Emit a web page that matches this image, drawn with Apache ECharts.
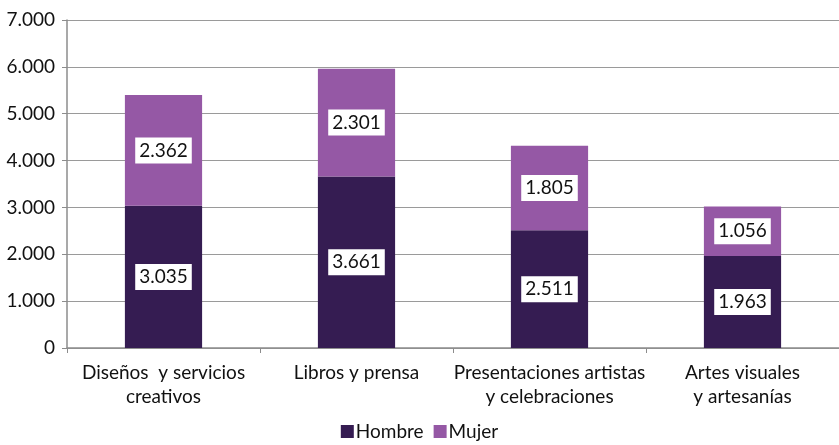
<!DOCTYPE html>
<html>
<head>
<meta charset="utf-8">
<script src="https://cdn.jsdelivr.net/npm/echarts@6/dist/echarts.min.js"></script>
<style>
  html, body { margin: 0; padding: 0; background: #fff; }
  #chart { width: 839px; height: 445px; }
</style>
</head>
<body>
<div id="chart"></div>
<script>
  const categories = ['Diseños  y servicios\ncreativos', 'Libros y prensa', 'Presentaciones artistas\ny celebraciones', 'Artes visuales\ny artesanías'];
  const hombre = [3035, 3661, 2511, 1963];
  const mujer = [2362, 2301, 1805, 1056];
  const yTicks = [0, 1000, 2000, 3000, 4000, 5000, 6000, 7000];

  // miles con punto: 3035 -> 3.035
  function fmt(v) {
    return String(v).replace(/\B(?=(\d{3})+(?!\d))/g, '.');
  }

  const chart = echarts.init(document.getElementById('chart'));
  const labelStyle = {
    show: true,
    position: 'inside',
    formatter: p => fmt(p.value),
    color: '#111',
    fontSize: 19,
    fontFamily: 'Lato',
    backgroundColor: '#fff',
    padding: [4, 4, 3, 4],
  };

  chart.setOption({
    animation: false,
    textStyle: { fontFamily: 'Lato' },
    grid: { left: 67, top: 20, width: 778, bottom: 97 },
    legend: {
      bottom: -1,
      left: 'center',
      itemWidth: 13,
      itemHeight: 13,
      itemGap: 10,
      icon: 'rect',
      textStyle: { fontSize: 19, color: '#111', padding: [0, 0, 0, -3] },
      data: ['Hombre', 'Mujer'],
    },
    xAxis: {
      type: 'category',
      data: categories,
      axisLine: { lineStyle: { color: '#8c8c8c', width: 1.5 } },
      axisTick: { show: true, length: 5, lineStyle: { color: '#8c8c8c' } },
      axisLabel: { fontSize: 19, color: '#111', lineHeight: 24, margin: 13, interval: 0 },
    },
    yAxis: {
      type: 'value',
      min: yTicks[0],
      max: yTicks[yTicks.length - 1],
      interval: 1000,
      axisLine: { show: true, lineStyle: { color: '#8c8c8c', width: 1.5 } },
      axisTick: { show: true, length: 5, lineStyle: { color: '#8c8c8c' } },
      splitLine: { lineStyle: { color: '#9a9a9a', width: 1 } },
      axisLabel: { fontSize: 19, color: '#111', margin: 12, formatter: v => fmt(v) },
    },
    series: [
      {
        name: 'Hombre',
        type: 'bar',
        stack: 'total',
        barWidth: '40%',
        data: hombre,
        itemStyle: { color: '#351c52' },
        label: labelStyle,
      },
      {
        name: 'Mujer',
        type: 'bar',
        stack: 'total',
        barWidth: '40%',
        data: mujer,
        itemStyle: { color: '#9558a5' },
        label: labelStyle,
      },
    ],
  });
</script>
</body>
</html>
